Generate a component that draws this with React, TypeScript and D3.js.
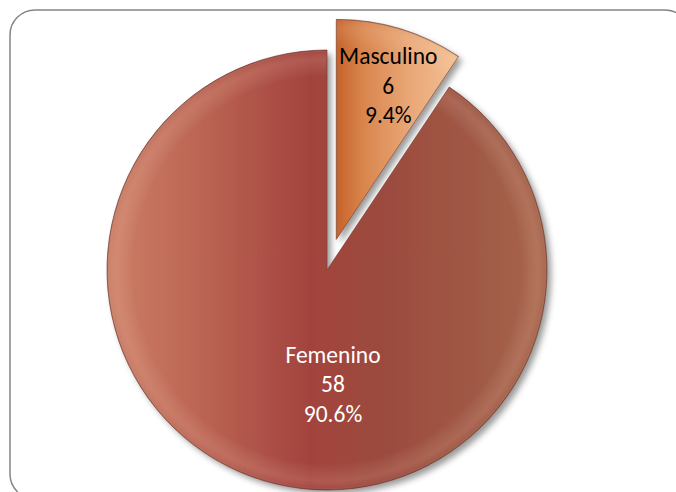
import React from "react";
import * as d3 from "d3";

const categories = ["Masculino", "Femenino"];
const counts = [6, 58];
const percentLabels = ["9.4%", "90.6%"];

const W = 676;
const H = 492;
const CX = 327;
const CY = 270;
const R = 220;
const EXPLODE = 32;

const fills = ["url(#gMasc)", "url(#gFem)"];
const textColors = ["#000000", "#ffffff"];

export default function App() {
  const pie = d3.pie<number>().sort(null).startAngle(0).endAngle(2 * Math.PI)(counts);
  const arc = d3.arc<d3.PieArcDatum<number>>().innerRadius(0).outerRadius(R);
  const labelArc = d3.arc<d3.PieArcDatum<number>>().innerRadius(R * 0.72).outerRadius(R * 0.72);

  const offsets = pie.map((d, i) => {
    const mid = (d.startAngle + d.endAngle) / 2;
    const e = i === 0 ? EXPLODE : 0;
    return [Math.sin(mid) * e, -Math.cos(mid) * e];
  });

  const labelPos = pie.map((d, i) => {
    if (i === 0) {
      const c = labelArc.centroid(d);
      return [CX + offsets[i][0] + c[0] + 6, CY + offsets[i][1] + c[1] - 1];
    }
    return [CX + 6, CY + 115];
  });

  const lineH = 29.5;
  return (
    <svg width={W} height={H} style={{ position: "absolute", left: 0, top: 0 }}>
      <defs>
        <linearGradient id="gFem" gradientUnits="userSpaceOnUse" x1={-R} y1={0} x2={R} y2={0}>
          <stop offset="0" stopColor="#cc7e66" />
          <stop offset="0.22" stopColor="#bb6453" />
          <stop offset="0.46" stopColor="#a3433e" />
          <stop offset="0.62" stopColor="#9c4a3e" />
          <stop offset="0.85" stopColor="#a05a45" />
          <stop offset="1" stopColor="#a8654c" />
        </linearGradient>
        <linearGradient id="gMasc" gradientUnits="userSpaceOnUse" x1={0} y1={0} x2={125} y2={0}>
          <stop offset="0" stopColor="#c6632a" />
          <stop offset="0.22" stopColor="#d9864e" />
          <stop offset="0.6" stopColor="#eaa878" />
          <stop offset="1" stopColor="#f3c193" />
        </linearGradient>
        <radialGradient id="rim" gradientUnits="userSpaceOnUse" cx={0} cy={0} r={R}>
          <stop offset="0" stopColor="#ffffff" stopOpacity={0} />
          <stop offset="0.88" stopColor="#ffffff" stopOpacity={0} />
          <stop offset="0.96" stopColor="#ffd8c0" stopOpacity={0.14} />
          <stop offset="0.99" stopColor="#ffffff" stopOpacity={0.04} />
          <stop offset="1" stopColor="#3a1a10" stopOpacity={0.3} />
        </radialGradient>
        <filter id="shadow" x="-20%" y="-20%" width="140%" height="140%">
          <feDropShadow dx="4" dy="4" stdDeviation="3" floodColor="#000" floodOpacity="0.4" />
        </filter>
      </defs>
      <rect x={10} y={10} width={680} height={489} rx={25} ry={25} fill="#ffffff" stroke="#858585" strokeWidth={1.5} />
      {pie.map((d, i) => (
        <g key={categories[i]} transform={`translate(${CX + offsets[i][0]},${CY + offsets[i][1]})`}>
          <path d={arc(d) || ""} fill={fills[i]} filter="url(#shadow)" />
          <path d={arc(d) || ""} fill="url(#rim)" stroke="#6e3b2c" strokeWidth={0.8} strokeOpacity={0.8} />
        </g>
      ))}
      {pie.map((d, i) => (
        <text
          key={`t${i}`}
          x={labelPos[i][0]}
          y={labelPos[i][1]}
          textAnchor="middle"
          fontFamily="Carlito, 'Liberation Sans', Arial, sans-serif"
          fontSize={23.5}
          fill={textColors[i]}
        >
          <tspan x={labelPos[i][0]} dy={-lineH + 7}>{categories[i]}</tspan>
          <tspan x={labelPos[i][0]} dy={lineH}>{String(counts[i])}</tspan>
          <tspan x={labelPos[i][0]} dy={lineH}>{percentLabels[i]}</tspan>
        </text>
      ))}
    </svg>
  );
}
